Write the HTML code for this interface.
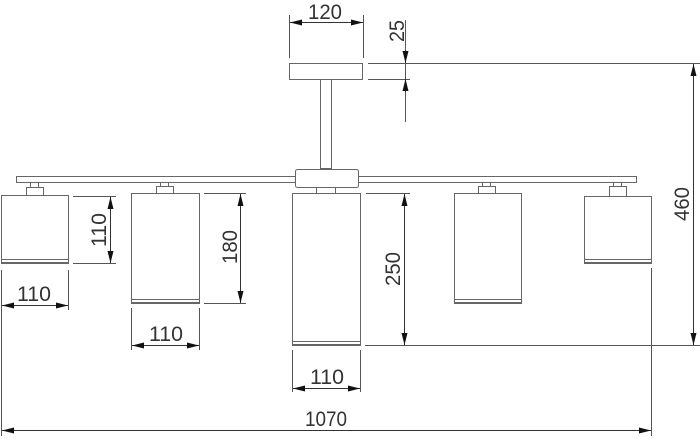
<!DOCTYPE html>
<html><head><meta charset="utf-8"><style>
html,body{margin:0;padding:0;background:#fff;}
svg{display:block}
text{font-family:"Liberation Sans",sans-serif;font-size:21px;fill:#333;}
</style></head><body>
<svg width="700" height="439" viewBox="0 0 700 439" xmlns="http://www.w3.org/2000/svg">
<defs>
<marker id="a" viewBox="0 0 12 6" refX="12" refY="3" markerWidth="12" markerHeight="6" markerUnits="userSpaceOnUse" orient="auto-start-reverse"><path d="M0,0 L12,3 L0,6z" fill="#111"/></marker>
</defs>
<g fill="#fff" stroke="#666" stroke-width="1">
<!-- canopy -->
<rect x="289.5" y="63.5" width="73" height="16"/>
<rect x="320.5" y="79.5" width="11" height="89"/>
<!-- bar -->
<rect x="16.5" y="176.5" width="620" height="6"/>
<rect x="295.5" y="169.5" width="63" height="18" rx="2"/>
<!-- mounts -->
<rect x="30.5" y="182.5" width="8" height="5"/><rect x="26.5" y="187.5" width="17" height="8"/>
<rect x="160.5" y="182.5" width="8" height="4"/><rect x="156.5" y="186.5" width="17" height="7"/>
<rect x="316.5" y="187.5" width="19" height="6"/>
<rect x="482.5" y="182.5" width="8" height="4"/><rect x="478.5" y="186.5" width="17" height="7"/>
<rect x="613.5" y="182.5" width="8" height="4"/><rect x="609.5" y="186.5" width="17" height="10"/>
<!-- shades -->
<rect x="1.5" y="195.5" width="67" height="68"/><rect x="1.5" y="259.5" width="67" height="3"/>
<rect x="131.5" y="193.5" width="68" height="110"/><rect x="131.5" y="299.5" width="68" height="3"/>
<rect x="292.5" y="193.5" width="68" height="152"/><rect x="292.5" y="341.5" width="68" height="3"/>
<rect x="454.5" y="193.5" width="67" height="110"/><rect x="454.5" y="299.5" width="67" height="3"/>
<rect x="584.5" y="196.5" width="67" height="67"/><rect x="584.5" y="259.5" width="67" height="3"/>
</g>
<g stroke="#555" stroke-width="1" fill="none">
<!-- extension lines -->
<path d="M289.5 15V58M363.5 15V58"/>
<path d="M368 63.5H700M368 79.5H410M405.5 20V122"/>
<path d="M73 196.5H116M73 263.5H116"/>
<path d="M1.5 270V436M68.5 270V310"/>
<path d="M204 193.5H246M204 303.5H246"/>
<path d="M131.5 308V350M199.5 308V350"/>
<path d="M366 193.5H410M365 345.5H700"/>
<path d="M292.5 350V392M360.5 350V392"/>
<path d="M651.5 268V436"/>
</g>
<g stroke="#333" stroke-width="1" fill="none" marker-start="url(#a)" marker-end="url(#a)">
<line x1="290" y1="22.5" x2="363" y2="22.5"/>
<line x1="110.5" y1="197" x2="110.5" y2="263"/>
<line x1="2" y1="305.5" x2="68" y2="305.5"/>
<line x1="240.5" y1="194" x2="240.5" y2="303"/>
<line x1="132" y1="345.5" x2="199" y2="345.5"/>
<line x1="404.5" y1="194" x2="404.5" y2="345"/>
<line x1="293" y1="388.5" x2="360" y2="388.5"/>
<line x1="2" y1="430.5" x2="651" y2="430.5"/>
<line x1="693.5" y1="64" x2="693.5" y2="345"/>
</g>
<g stroke="#333" fill="none">
<line x1="405.5" y1="50" x2="405.5" y2="63" marker-end="url(#a)"/>
<line x1="405.5" y1="92" x2="405.5" y2="79" marker-end="url(#a)"/>
</g>
<text x="308" y="19" textLength="34" lengthAdjust="spacingAndGlyphs">120</text>
<text transform="translate(404,42) rotate(-90)" textLength="22" lengthAdjust="spacingAndGlyphs">25</text>
<text transform="translate(106,247) rotate(-90)" textLength="34" lengthAdjust="spacingAndGlyphs">110</text>
<text x="17" y="301" textLength="34" lengthAdjust="spacingAndGlyphs">110</text>
<text transform="translate(237,264) rotate(-90)" textLength="34" lengthAdjust="spacingAndGlyphs">180</text>
<text x="149" y="341" textLength="34" lengthAdjust="spacingAndGlyphs">110</text>
<text transform="translate(400,286) rotate(-90)" textLength="34" lengthAdjust="spacingAndGlyphs">250</text>
<text x="310" y="384" textLength="34" lengthAdjust="spacingAndGlyphs">110</text>
<text x="305" y="426" textLength="42" lengthAdjust="spacingAndGlyphs">1070</text>
<text transform="translate(689,221) rotate(-90)" textLength="34" lengthAdjust="spacingAndGlyphs">460</text>
</svg>
</body></html>
